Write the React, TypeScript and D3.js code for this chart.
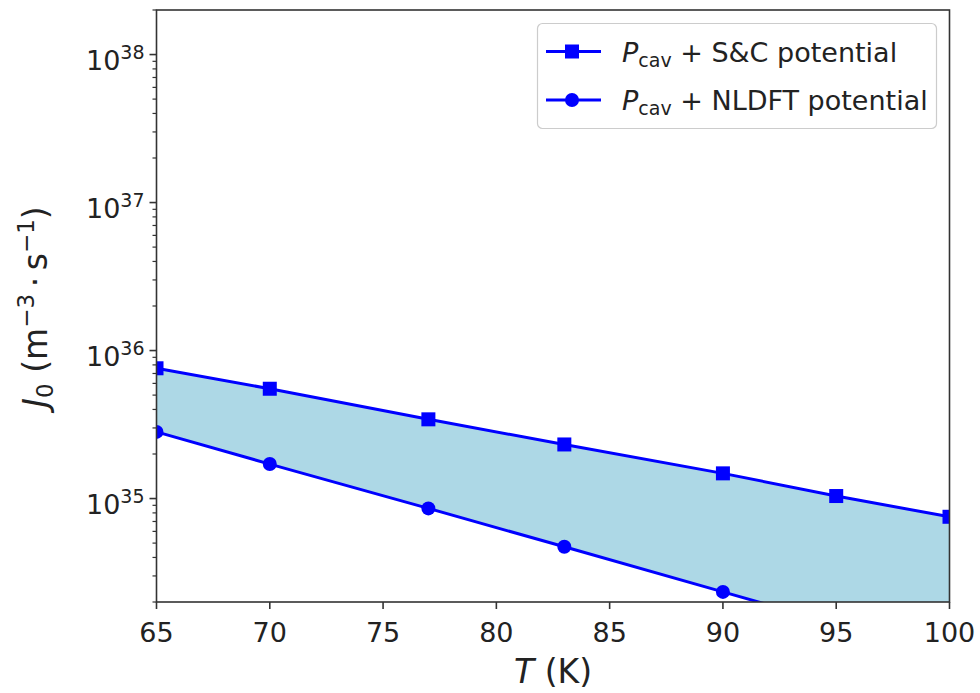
import React from "react";
import * as d3 from "d3";

const temps = [65, 70, 77, 83, 90, 95, 100];
const scValues = [7.59e35, 5.52e35, 3.43e35, 2.32e35, 1.48e35, 1.04e35, 7.53e34];
const nldftValues = [2.82e35, 1.71e35, 8.58e34, 4.72e34, 2.34e34, 1.42e34, 8.6e33];
const xTicks = [65, 70, 75, 80, 85, 90, 95, 100];
const yMajorExps = [35, 36, 37, 38];

const W = 980, H = 693;
const L = 156.5, R = 949.5, T = 10, B = 602;
const FONT = "DejaVu Sans, sans-serif";
const FS = 27;
const SFS = 19;
const LFS = 33;
const LSFS = 23;

export default function App() {
  const x = d3.scaleLinear().domain([65, 100]).range([L, R]);
  const y = d3.scaleLog().domain([2e34, 2e38]).range([B, T]);

  const data = temps.map((t, i) => ({ t, sc: scValues[i], nl: nldftValues[i] }));
  const area = d3.area<any>().x(d => x(d.t)).y0(d => y(d.nl)).y1(d => y(d.sc));
  const lineSC = d3.line<any>().x(d => x(d.t)).y(d => y(d.sc));
  const lineNL = d3.line<any>().x(d => x(d.t)).y(d => y(d.nl));

  const minorTicks: number[] = [];
  for (let e = 34; e <= 38; e++) {
    for (let m = 2; m <= 9; m++) {
      const v = m * Math.pow(10, e);
      if (v >= 2e34 && v <= 2e38) minorTicks.push(v);
    }
  }

  const blue = "#0000ff";
  const ms = 14;

  return (
    <svg width={W} height={H} style={{ position: "absolute", left: 0, top: 0, background: "#fff" }} fontFamily={FONT}>
      <defs>
        <clipPath id="plotclip">
          <rect x={L} y={T} width={R - L} height={B - T} />
        </clipPath>
      </defs>
      <rect x={0} y={0} width={W} height={H} fill="#fff" />
      <g clipPath="url(#plotclip)">
        <path d={area(data) || ""} fill="#add8e6" />
        <path d={lineSC(data) || ""} fill="none" stroke={blue} strokeWidth={3} />
        <path d={lineNL(data) || ""} fill="none" stroke={blue} strokeWidth={3} />
        {data.map((d, i) => (
          <rect key={"s" + i} x={x(d.t) - ms / 2} y={y(d.sc) - ms / 2} width={ms} height={ms} fill={blue} />
        ))}
        {data.map((d, i) => (
          <circle key={"c" + i} cx={x(d.t)} cy={y(d.nl)} r={ms / 2} fill={blue} />
        ))}
      </g>
      {/* spines */}
      <rect x={L} y={T} width={R - L} height={B - T} fill="none" stroke="#333" strokeWidth={1.6} />
      {/* x ticks */}
      {xTicks.map(t => (
        <g key={"xt" + t}>
          <line x1={x(t)} x2={x(t)} y1={B} y2={B + 7} stroke="#333" strokeWidth={1.6} />
          <text x={x(t)} y={B + 40} textAnchor="middle" fontSize={FS} fill="#222">{t}</text>
        </g>
      ))}
      {/* y minor ticks */}
      {minorTicks.map((v, i) => (
        <line key={"ym" + i} x1={L - 4} x2={L} y1={y(v)} y2={y(v)} stroke="#333" strokeWidth={1.2} />
      ))}
      {/* y major ticks */}
      {yMajorExps.map(e => {
        const yy = y(Math.pow(10, e));
        return (
          <g key={"ym" + e}>
            <line x1={L - 7} x2={L} y1={yy} y2={yy} stroke="#333" strokeWidth={1.6} />
            <text x={L - 12} y={yy + 15} textAnchor="end" fontSize={FS} fill="#222">
              10<tspan dy={-11} fontSize={SFS}>{e}</tspan>
            </text>
          </g>
        );
      })}
      {/* x label */}
      <text x={(L + R) / 2} y={683} textAnchor="middle" fontSize={LFS} fill="#222">
        <tspan fontStyle="italic">T</tspan> (K)
      </text>
      {/* y label */}
      <text transform={`translate(47,307) rotate(-90)`} textAnchor="middle" fontSize={LFS} fill="#222">
        <tspan fontStyle="italic">J</tspan>
        <tspan dy={6} fontSize={LSFS}>0</tspan>
        <tspan dy={-6}>{"\u00a0(m"}</tspan>
        <tspan dy={-13} fontSize={LSFS}>{"\u22123"}</tspan>
        <tspan dy={13}>{"\u2009\u00b7\u2009s"}</tspan>
        <tspan dy={-13} fontSize={LSFS}>{"\u22121"}</tspan>
        <tspan dy={13}>)</tspan>
      </text>
      {/* legend */}
      <rect x={537.5} y={23.5} width={399} height={105} rx={5} fill="#fff" fillOpacity={0.8} stroke="#ccc" strokeWidth={1.2} />
      {[
        { label: "S&C potential", cy: 51.5, shape: "square" },
        { label: "NLDFT potential", cy: 100, shape: "circle" },
      ].map(it => (
        <g key={it.label}>
          <line x1={546} x2={601} y1={it.cy} y2={it.cy} stroke={blue} strokeWidth={3} />
          {it.shape === "square" ? (
            <rect x={572 - ms / 2} y={it.cy - ms / 2} width={ms} height={ms} fill={blue} />
          ) : (
            <circle cx={572} cy={it.cy} r={ms / 2} fill={blue} />
          )}
          <text x={622} y={it.cy + 10} fontSize={FS} fill="#222">
            <tspan fontStyle="italic">P</tspan>
            <tspan dy={5} fontSize={SFS}>cav</tspan>
            <tspan dy={-5}>{" + " + it.label}</tspan>
          </text>
        </g>
      ))}
    </svg>
  );
}
